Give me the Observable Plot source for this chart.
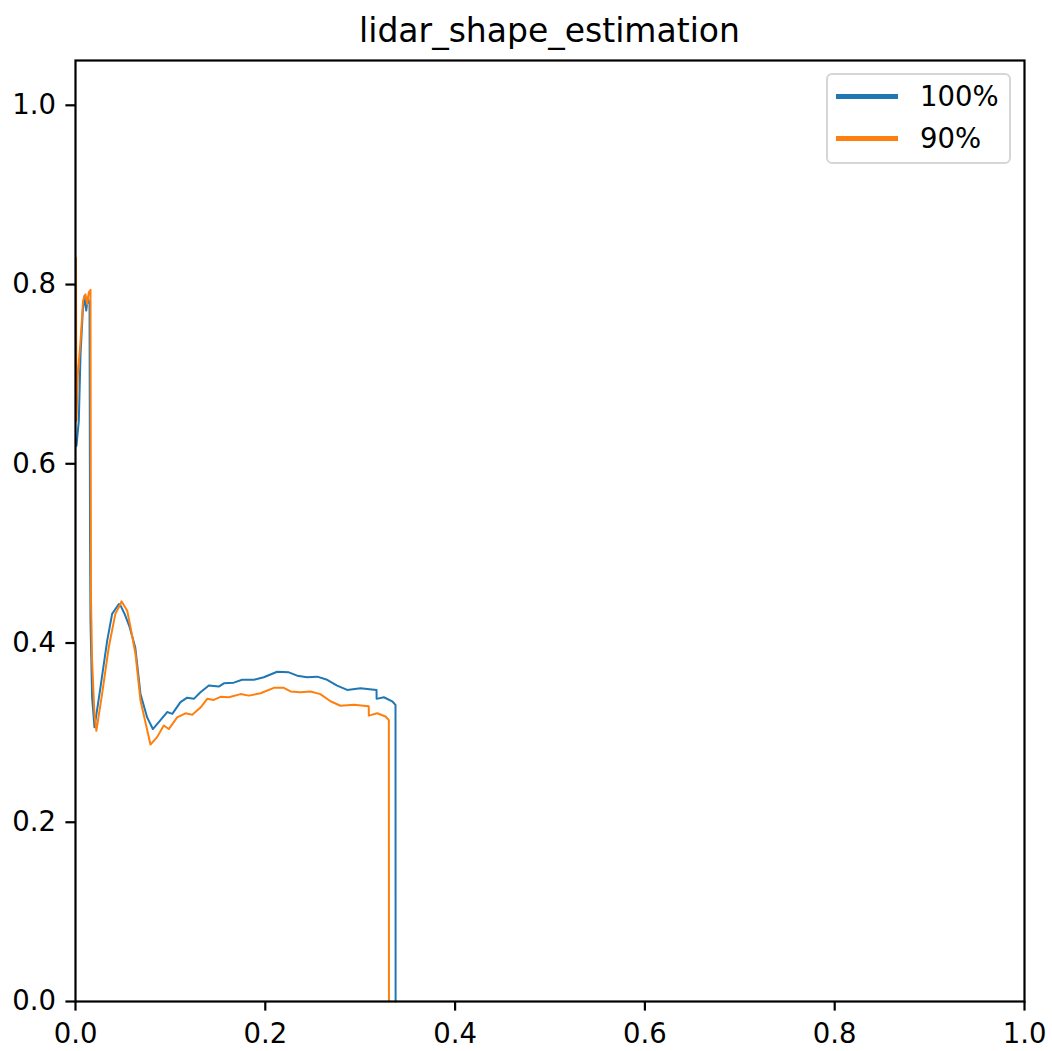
<!DOCTYPE html>
<html>
<head>
<meta charset="utf-8">
<script src="https://cdn.jsdelivr.net/npm/d3@7"></script>
<script src="https://cdn.jsdelivr.net/npm/@observablehq/plot@0.6"></script>
<style>
  html, body { margin: 0; padding: 0; background: #fff; }
  #wrap { position: relative; width: 1052px; height: 1051px; font-family: "DejaVu Sans", sans-serif; }
  #title { position: absolute; left: 75px; width: 949px; top: 14px; text-align: center; font-size: 33px; line-height: 33px; color: #000; }
  #chart { position: absolute; left: 0; top: 50px; }
  #legend { position: absolute; left: 826px; top: 73px; width: 181px; height: 87px; border: 2px solid #d6d6d6; border-radius: 6px; background: rgba(255,255,255,0.8); }
  .item { position: absolute; left: 0; height: 30px; font-size: 27.5px; line-height: 30px; }
  .swatch { position: absolute; left: 8px; top: 13px; width: 62px; height: 4.5px; }
  .lab { position: absolute; left: 92px; top: 0; white-space: nowrap; }
</style>
</head>
<body>
<div id="wrap">
  <div id="title">lidar_shape_estimation</div>
  <div id="chart"></div>
  <div id="legend"></div>
</div>
<script>
const seriesNames = ["100%", "90%"];
const seriesColors = ["#1f77b4", "#ff7f0e"];

const recall100 = [0.001,0.0035,0.0053,0.0077,0.0095,0.0113,0.013,0.0148,0.0153,0.0158,0.0175,0.0200,0.0263,0.0334,0.0386,0.0457,0.0474,0.0515,0.0570,0.0630,0.0685,0.0755,0.0815,0.0880,0.0966,0.1020,0.1106,0.1177,0.1247,0.1317,0.1405,0.1510,0.1563,0.1668,0.1756,0.1880,0.1984,0.2125,0.2248,0.2336,0.2441,0.2547,0.2652,0.2757,0.2863,0.3003,0.3172,0.3173,0.3249,0.3337,0.3372,0.3373];
const precision100 = [0.62,0.648,0.7225,0.771,0.7875,0.771,0.7856,0.778,0.52,0.425,0.339,0.306,0.3506,0.4027,0.4325,0.4436,0.442,0.433,0.418,0.395,0.343,0.317,0.304,0.312,0.323,0.321,0.334,0.339,0.3377,0.345,0.3525,0.3514,0.355,0.3558,0.359,0.359,0.3618,0.368,0.3673,0.3636,0.3618,0.3625,0.359,0.3525,0.3477,0.3495,0.3477,0.3377,0.3395,0.335,0.331,0];

const recall90 = [0.0005,0.001,0.0025,0.0053,0.008,0.0105,0.0123,0.014,0.0158,0.0163,0.0175,0.0200,0.0220,0.028,0.035,0.042,0.0474,0.0485,0.0545,0.058,0.0632,0.0685,0.079,0.086,0.093,0.0983,0.1071,0.1159,0.123,0.1317,0.1388,0.1457,0.1528,0.1616,0.1739,0.1826,0.195,0.209,0.2195,0.2266,0.237,0.2476,0.258,0.2687,0.2792,0.2933,0.309,0.3091,0.3179,0.3267,0.3302,0.3303];
const precision90 = [0.83,0.648,0.70,0.737,0.782,0.789,0.778,0.791,0.794,0.45,0.38,0.32,0.302,0.343,0.395,0.4325,0.4436,0.4465,0.436,0.4175,0.3878,0.3357,0.2867,0.295,0.308,0.304,0.317,0.3216,0.320,0.328,0.3377,0.3365,0.340,0.3395,0.343,0.3413,0.344,0.350,0.350,0.346,0.345,0.346,0.343,0.335,0.330,0.331,0.3294,0.319,0.3216,0.318,0.314,0];

const xTicks = [0, 0.2, 0.4, 0.6, 0.8, 1.0];
const yTicks = [0, 0.2, 0.4, 0.6, 0.8, 1.0];

const data = [
  ...recall100.map((r, i) => ({series: seriesNames[0], recall: r, precision: precision100[i]})),
  ...recall90.map((r, i) => ({series: seriesNames[1], recall: r, precision: precision90[i]}))
];

const chart = Plot.plot({
  width: 1052,
  height: 1001,
  marginLeft: 75,
  marginRight: 28,
  marginTop: 10,
  marginBottom: 50,
  style: {fontFamily: "DejaVu Sans, sans-serif", fontSize: "27.5px", color: "#000", background: "transparent"},
  x: {domain: [0, 1]},
  y: {domain: [0, 1.05]},
  color: {domain: seriesNames, range: seriesColors},
  marks: [
    Plot.line(data, {x: "recall", y: "precision", z: "series", stroke: "series", strokeWidth: 2, curve: "linear"}),
    Plot.frame({stroke: "#000", strokeWidth: 2.2}),
    Plot.axisX({ticks: xTicks, tickFormat: d3.format(".1f"), tickSize: 9.6, tickPadding: 12.5, strokeWidth: 2.2, fontSize: 27.5, label: null, fill: "#000"}),
    Plot.axisY({ticks: yTicks, tickFormat: d3.format(".1f"), tickSize: 9.6, tickPadding: 10, strokeWidth: 2.2, fontSize: 27.5, label: null, fill: "#000"})
  ]
});
document.getElementById("chart").appendChild(chart);

const legend = document.getElementById("legend");
seriesNames.forEach((name, i) => {
  const item = document.createElement("div");
  item.className = "item";
  item.style.top = (6 + i * 42) + "px";
  item.style.width = "181px";
  const sw = document.createElement("div");
  sw.className = "swatch";
  sw.style.background = seriesColors[i];
  const lab = document.createElement("div");
  lab.className = "lab";
  lab.textContent = name;
  item.appendChild(sw);
  item.appendChild(lab);
  legend.appendChild(item);
});
</script>
</body>
</html>
